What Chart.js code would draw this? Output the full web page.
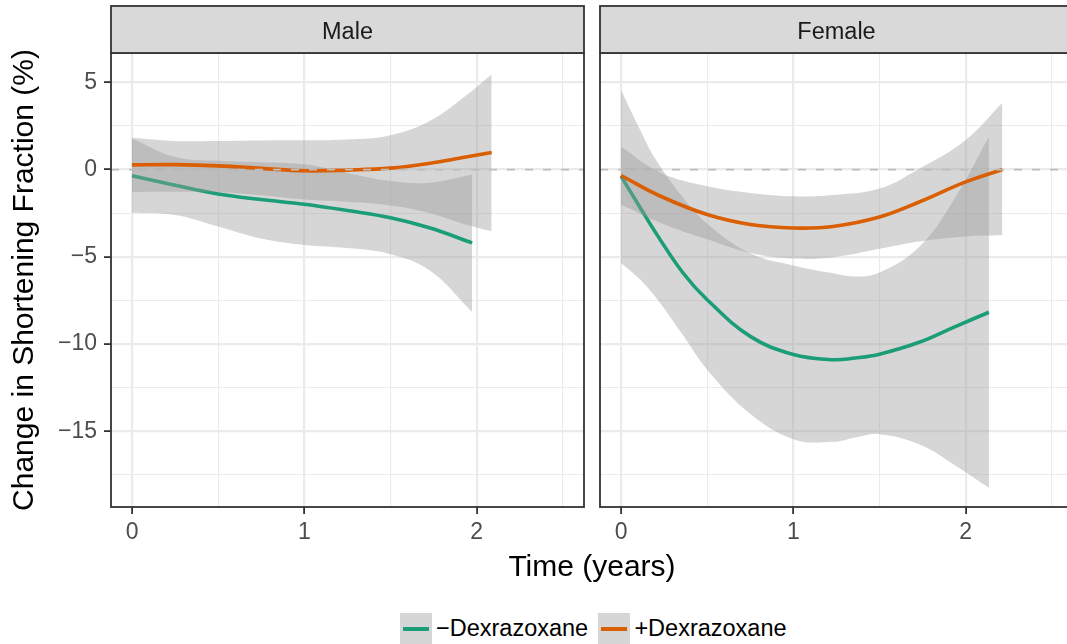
<!DOCTYPE html>
<html>
<head>
<meta charset="utf-8">
<script src="https://cdn.jsdelivr.net/npm/chart.js@4.4.1/dist/chart.umd.min.js"></script>
<style>
  html, body { margin: 0; padding: 0; background: #fff; overflow: hidden; }
  body { width: 1067px; height: 644px; position: relative; font-family: "Liberation Sans", Arial, sans-serif; }
  canvas { position: absolute; top: 0; }
  #male { left: 0; }
  #female { left: 598px; }
  .xtitle { position: absolute; left: 392px; width: 400px; top: 550.6px; text-align: center; font-size: 30px; line-height: 30px; color: #000; }
  .key { position: absolute; top: 613px; width: 32px; height: 32px; background: #d6d6d6; }
  .key span { position: absolute; left: 3px; top: 14.3px; width: 26px; height: 4px; }
  .ltext { position: absolute; top: 617.4px; font-size: 23.5px; line-height: 23.5px; color: #000; white-space: nowrap; }
</style>
</head>
<body>
<canvas id="male" width="586" height="560"></canvas>
<canvas id="female" width="477" height="560"></canvas>
<div class="xtitle">Time (years)</div>
<div id="legend"></div>
<script>
// axis ranges and ticks
const xMin = -0.122, xMax = 2.623;
const yMin = -19.34, yMax = 6.68;
const xTicks = [0, 1, 2];
const xMinorTicks = [0.5, 1.5, 2.5];
const yTicks = [-15, -10, -5, 0, 5];
const yMinorTicks = [-17.5, -12.5, -7.5, -2.5, 2.5];
const refLine = 0;

const groups = ['\u2212Dexrazoxane', '+Dexrazoxane'];
const groupColors = ['#1b9e77', '#d95f02'];

// Male, -Dexrazoxane
const maleNoTime  = [0, 0.25, 0.5, 0.75, 1.0, 1.25, 1.5, 1.73, 1.974];
const maleNoFit   = [-0.35, -0.9, -1.4, -1.72, -1.99, -2.35, -2.76, -3.35, -4.2];
const maleNoUpper = [1.78, 0.72, 0.5, 0.42, 0.3, -0.2, -0.66, -0.75, -0.29];
const maleNoLower = [-2.47, -2.6, -3.26, -3.95, -4.32, -4.5, -4.85, -5.8, -8.16];

// Male, +Dexrazoxane
const maleDexTime  = [0, 0.25, 0.5, 0.75, 1.0, 1.25, 1.5, 1.73, 1.92, 2.087];
const maleDexFit   = [0.27, 0.28, 0.21, 0.07, -0.07, -0.03, 0.08, 0.36, 0.69, 0.98];
const maleDexUpper = [1.82, 1.64, 1.64, 1.67, 1.68, 1.72, 1.97, 2.8, 4.1, 5.45];
const maleDexLower = [-1.28, -1.27, -1.3, -1.47, -1.72, -1.85, -2.06, -2.5, -3.1, -3.54];

// Female, -Dexrazoxane
const femaleNoTime  = [0, 0.1, 0.2, 0.36, 0.5, 0.75, 1.0, 1.23, 1.36, 1.5, 1.73, 1.93, 2.135];
const femaleNoFit   = [-0.38, -2.0, -3.6, -5.93, -7.46, -9.56, -10.6, -10.9, -10.8, -10.58, -9.9, -9.04, -8.18];
const femaleNoUpper = [4.56, 2.5, 0.6, -1.6, -3.1, -4.8, -5.5, -5.95, -6.13, -5.9, -4.44, -1.76, 1.88];
const femaleNoLower = [-5.35, -6.2, -7.3, -9.5, -11.47, -14.0, -15.45, -15.6, -15.35, -15.17, -15.75, -16.9, -18.24];

// Female, +Dexrazoxane
const femaleDexTime  = [0, 0.23, 0.5, 0.75, 1.0, 1.23, 1.5, 1.73, 2.0, 2.213];
const femaleDexFit   = [-0.34, -1.53, -2.58, -3.15, -3.35, -3.26, -2.72, -1.86, -0.71, 0.0];
const femaleDexUpper = [1.3, -0.19, -0.96, -1.34, -1.53, -1.46, -1.09, 0.05, 1.7, 3.83];
const femaleDexLower = [-2.0, -3.06, -4.0, -4.78, -5.1, -5.02, -4.54, -4.12, -3.83, -3.77];

const FONT = '"Liberation Sans", Arial, sans-serif';
const bandFill = 'rgba(153,153,153,0.4)';

function pts(xs, ys) {
  return xs.map((x, i) => ({ x: x, y: ys[i] }));
}

function fmt(v) {
  return v < 0 ? '\u2212' + Math.abs(v) : String(v);
}

// ribbon (upper filled to lower) + fitted line, like geom_smooth
function smooth(time, fit, upper, lower, color, order) {
  return [
    { data: pts(time, upper), fill: '+1', backgroundColor: bandFill, borderColor: 'transparent', borderWidth: 0, order: order + 1 },
    { data: pts(time, lower), fill: false, borderColor: 'transparent', borderWidth: 0, order: order + 1 },
    { data: pts(time, fit), fill: false, borderColor: color, borderWidth: 3.6, order: order }
  ];
}

const facetPlugin = {
  id: 'facet',
  afterDatasetsDraw(chart) {
    const { ctx, chartArea: a, scales: { y } } = chart;
    const py = y.getPixelForValue(refLine);
    ctx.save();
    ctx.beginPath();
    ctx.rect(a.left, a.top, a.right - a.left, a.bottom - a.top);
    ctx.clip();
    ctx.setLineDash([8, 10]);
    ctx.strokeStyle = '#bebebe';
    ctx.lineWidth = 1.8;
    ctx.beginPath();
    ctx.moveTo(a.left, py);
    ctx.lineTo(a.right, py);
    ctx.stroke();
    ctx.restore();
  },
  afterDraw(chart, args, opts) {
    const { ctx, chartArea: a } = chart;
    ctx.save();
    ctx.lineWidth = 1.8;
    ctx.strokeStyle = '#333333';
    ctx.strokeRect(a.left, a.top, a.right - a.left, a.bottom - a.top);
    ctx.fillStyle = '#d9d9d9';
    ctx.fillRect(a.left, 6, a.right - a.left, a.top - 6);
    ctx.strokeRect(a.left, 6, a.right - a.left, a.top - 6);
    ctx.fillStyle = '#1a1a1a';
    ctx.font = '23.5px ' + FONT;
    ctx.textAlign = 'center';
    ctx.textBaseline = 'alphabetic';
    ctx.fillText(opts.label, (a.left + a.right) / 2, 38.5);
    ctx.restore();
  }
};

function gridOpts(majors) {
  return {
    color: '#ebebeb',
    lineWidth: c => majors.includes(c.tick.value) ? 2.2 : 1.1,
    tickColor: c => majors.includes(c.tick.value) ? '#333333' : 'rgba(0,0,0,0)',
    tickWidth: 1.8,
    tickLength: 7
  };
}

function makeChart(id, label, sets, showY) {
  const yGrid = gridOpts(yTicks);
  if (!showY) yGrid.drawTicks = false;
  return new Chart(document.getElementById(id), {
    type: 'line',
    data: { datasets: sets },
    plugins: [facetPlugin],
    options: {
      responsive: false,
      animation: false,
      events: [],
      layout: { padding: { top: 53, right: 2, left: 0, bottom: 0 } },
      elements: {
        point: { radius: 0 },
        line: { tension: 0.4, borderCapStyle: 'butt' }
      },
      plugins: {
        legend: { display: false },
        tooltip: { enabled: false },
        facet: { label: label }
      },
      scales: {
        x: {
          type: 'linear',
          min: xMin,
          max: xMax,
          afterBuildTicks: s => {
            s.ticks = xTicks.concat(xMinorTicks).sort((a, b) => a - b).map(v => ({ value: v }));
          },
          afterFit: s => { s.height = 53; },
          ticks: {
            autoSkip: false,
            maxRotation: 0,
            padding: 5,
            color: '#4d4d4d',
            font: { family: FONT, size: 23 },
            callback: v => xTicks.includes(v) ? fmt(v) : ''
          },
          grid: gridOpts(xTicks),
          border: { display: false }
        },
        y: {
          type: 'linear',
          min: yMin,
          max: yMax,
          afterBuildTicks: s => {
            s.ticks = yMinorTicks.concat(yTicks).sort((a, b) => a - b).map(v => ({ value: v }));
          },
          afterFit: s => { s.width = showY ? 111 : 2; },
          ticks: {
            display: showY,
            autoSkip: false,
            padding: 7,
            color: '#4d4d4d',
            font: { family: FONT, size: 23 },
            callback: v => yTicks.includes(v) ? fmt(v) : ''
          },
          title: {
            display: showY,
            text: 'Change in Shortening Fraction (%)',
            color: '#000',
            font: { family: FONT, size: 30 },
            padding: { top: 7, bottom: 0 }
          },
          grid: yGrid,
          border: { display: false }
        }
      }
    }
  });
}

makeChart('male', 'Male',
  smooth(maleNoTime, maleNoFit, maleNoUpper, maleNoLower, groupColors[0], 3)
    .concat(smooth(maleDexTime, maleDexFit, maleDexUpper, maleDexLower, groupColors[1], 1)),
  true);

makeChart('female', 'Female',
  smooth(femaleNoTime, femaleNoFit, femaleNoUpper, femaleNoLower, groupColors[0], 3)
    .concat(smooth(femaleDexTime, femaleDexFit, femaleDexUpper, femaleDexLower, groupColors[1], 1)),
  false);

// legend
const legend = document.getElementById('legend');
const keyLefts = [400, 598];
const textLefts = [436, 634.4];
groups.forEach((g, i) => {
  const key = document.createElement('div');
  key.className = 'key';
  key.style.left = keyLefts[i] + 'px';
  const line = document.createElement('span');
  line.style.background = groupColors[i];
  key.appendChild(line);
  legend.appendChild(key);
  const txt = document.createElement('div');
  txt.className = 'ltext';
  txt.style.left = textLefts[i] + 'px';
  txt.textContent = g;
  legend.appendChild(txt);
});
</script>
</body>
</html>
